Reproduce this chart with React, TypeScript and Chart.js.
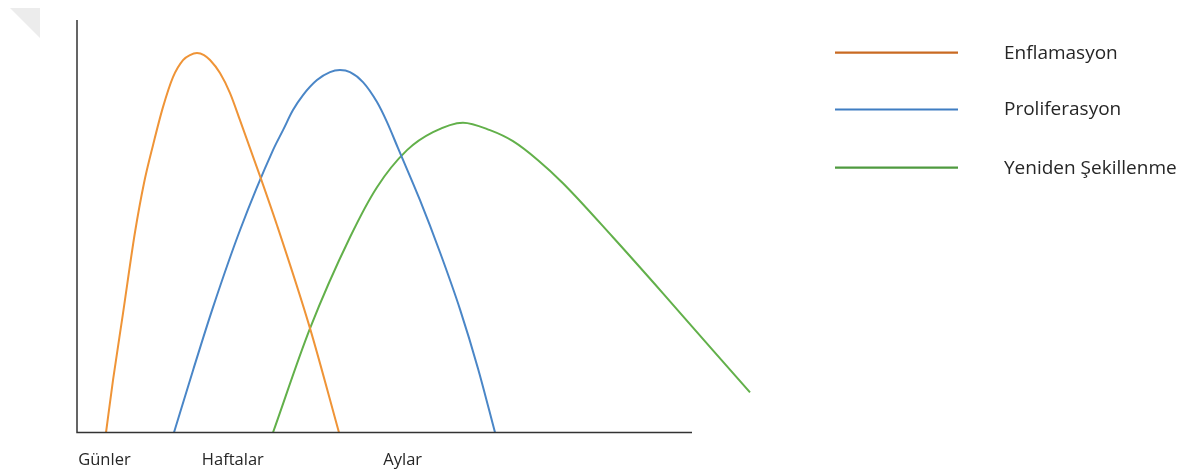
import React, { useEffect, useRef } from "react";
import { Chart, registerables } from "chart.js";
Chart.register(...registerables);

const seriesNames = ["Enflamasyon", "Proliferasyon", "Yeniden Şekillenme"];
const lineColors = ["#EF9437", "#4A86C7", "#62B04A"];
const legendColors = ["#C96A22", "#3F7DC2", "#4F9A3F"];

const enflamasyonX = [4.72, 5.85, 7.48, 9.43, 10.89, 12.36, 13.98, 15.61, 17.24, 18.37, 19.51, 20.65, 21.63, 23.25, 24.88, 26.5, 28.13, 29.76, 32.52, 37.89, 42.6];
const enflamasyonY = [0, 12.62, 28.88, 48.54, 60.44, 69.66, 78.88, 86.17, 90.29, 91.5, 91.99, 91.5, 90.29, 87.14, 82.28, 75.73, 68.93, 62.14, 50.24, 25.24, 0];

const proliferasyonX = [15.77, 18.86, 22.11, 26.5, 31.87, 33.5, 35.12, 36.75, 39.02, 41.14, 42.76, 44.39, 46.5, 48.78, 50.41, 52.2, 55.77, 59.02, 62.28, 65.2, 67.97];
const proliferasyonY = [0, 15.05, 30.34, 49.03, 68.45, 73.3, 78.16, 81.8, 85.44, 87.38, 87.86, 87.38, 84.95, 80.1, 75.24, 68.93, 56.31, 43.69, 29.85, 15.53, 0];

const sekillenmeX = [31.87, 37.89, 44.39, 48.78, 53.66, 57.89, 62.76, 67.15, 70.89, 74.96, 79.02, 87.15, 95.28, 103.41, 109.43];
const sekillenmeY = [0, 25.24, 47.33, 59.47, 68.45, 72.82, 75.12, 73.3, 70.63, 66.02, 60.44, 47.33, 33.74, 19.9, 9.71];

const xTickLabels = ["Günler", "Haftalar", "Aylar"];
const xTickPositions = [0.2, 20.3, 49.8];

const toPoints = (xs: number[], ys: number[]) => xs.map((x, i) => ({ x, y: ys[i] }));

const decorPlugin = {
  id: "decor",
  beforeDraw(chart: any) {
    const ctx = chart.ctx;
    ctx.save();
    ctx.fillStyle = "#ffffff";
    ctx.fillRect(0, 0, chart.width, chart.height);
    ctx.fillStyle = "#ECECEC";
    ctx.beginPath();
    ctx.moveTo(10, 8);
    ctx.lineTo(40, 8);
    ctx.lineTo(40, 38);
    ctx.closePath();
    ctx.fill();
    ctx.restore();
  },
  afterDraw(chart: any) {
    const ctx = chart.ctx;
    const { left, right, top, bottom } = chart.chartArea;
    ctx.save();
    ctx.strokeStyle = "#333333";
    ctx.lineWidth = 1.5;
    ctx.beginPath();
    ctx.moveTo(left, top);
    ctx.lineTo(left, bottom);
    ctx.lineTo(right, bottom);
    ctx.stroke();

    ctx.fillStyle = "#262626";
    ctx.font = "16.5px 'Open Sans'";
    ctx.textAlign = "left";
    ctx.textBaseline = "middle";
    const xs = chart.scales.x;
    xTickLabels.forEach((t, i) => {
      ctx.fillText(t, xs.getPixelForValue(xTickPositions[i]), bottom + 28);
    });

    const rows = [52.7, 109.5, 167.7];
    ctx.font = "19px 'Open Sans'";
    seriesNames.forEach((name, i) => {
      ctx.strokeStyle = legendColors[i];
      ctx.lineWidth = 2.2;
      ctx.beginPath();
      ctx.moveTo(835, rows[i]);
      ctx.lineTo(958, rows[i]);
      ctx.stroke();
      ctx.fillStyle = "#262626";
      ctx.fillText(name, 1004, rows[i] + 0.5);
    });
    ctx.restore();
  },
};

export default function App() {
  const ref = useRef<HTMLCanvasElement | null>(null);
  useEffect(() => {
    if (!ref.current) return;
    const series = [
      toPoints(enflamasyonX, enflamasyonY),
      toPoints(proliferasyonX, proliferasyonY),
      toPoints(sekillenmeX, sekillenmeY),
    ];
    const chart = new Chart(ref.current, {
      type: "line",
      data: {
        datasets: series.map((data, i) => ({
          label: seriesNames[i],
          data,
          borderColor: lineColors[i],
          backgroundColor: lineColors[i],
          borderWidth: 2,
          pointRadius: 0,
          cubicInterpolationMode: "monotone" as const,
          clip: false as any,
          fill: false,
        })),
      },
      options: {
        animation: false,
        responsive: false,
        devicePixelRatio: 1,
        layout: { padding: { left: 77, right: 505, top: 20, bottom: 40.5 } },
        plugins: { legend: { display: false }, tooltip: { enabled: false } },
        scales: {
          x: {
            type: "linear",
            display: false,
            bounds: "data",
            afterDataLimits: (s: any) => {
              s.min = 0;
              s.max = 100;
            },
          },
          y: { type: "linear", display: false, min: 0, max: 100 },
        },
      },
      plugins: [decorPlugin],
    });
    return () => chart.destroy();
  }, []);
  return (
    <div style={{ position: "absolute", left: 0, top: 0, width: 1197, height: 473, background: "#fff" }}>
      <canvas ref={ref} width={1197} height={473} />
    </div>
  );
}
